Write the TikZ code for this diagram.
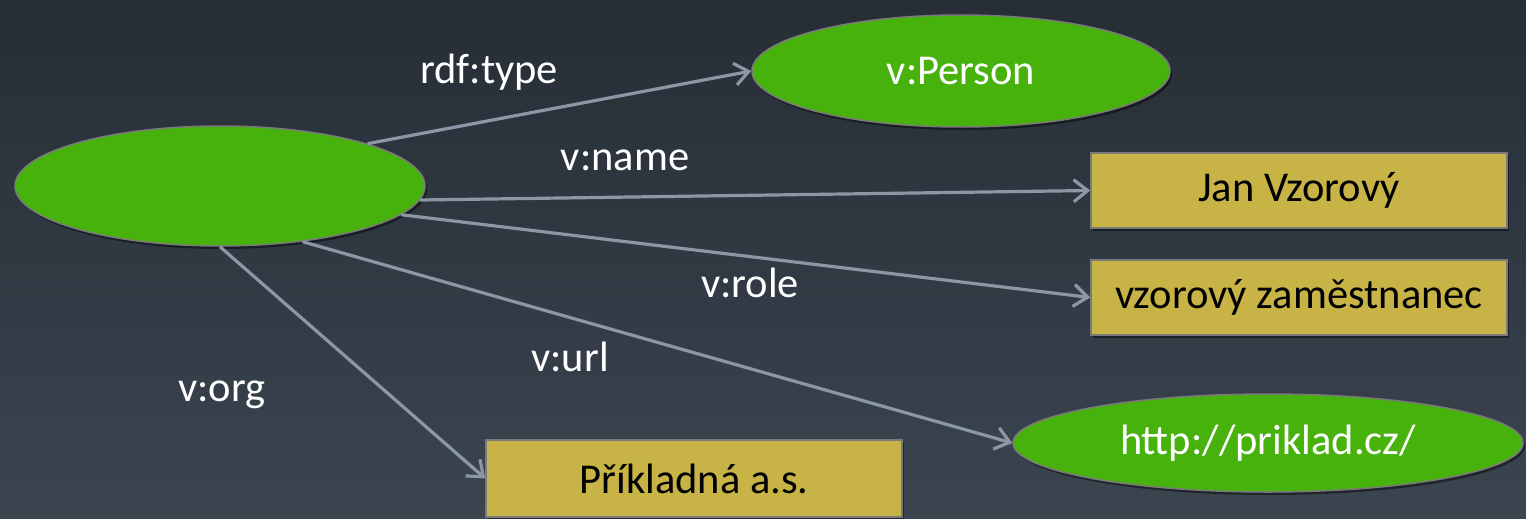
\documentclass[tikz,border=0pt]{standalone}
\usepackage{fontspec}
\setmainfont{Carlito}
\usetikzlibrary{shapes.geometric,arrows.meta,shadows}
\definecolor{bgtop}{HTML}{262D35}
\definecolor{bgbot}{HTML}{3B4550}
\definecolor{egreen}{HTML}{47B20C}
\definecolor{rgold}{HTML}{C8B446}
\definecolor{edgec}{HTML}{8C97A6}
\definecolor{bordc}{HTML}{7A7A7A}
\begin{document}
\begin{tikzpicture}[x=1pt,y=-1pt,
  font=\fontsize{42.5}{50}\selectfont,
  shad/.style={drop shadow={shadow xshift=2pt,shadow yshift=-3pt,opacity=0.45,fill=black}},
  res/.style={ellipse, fill=egreen, draw=bordc, line width=1.5pt, text=white, inner sep=0pt, shad},
  lit/.style={rectangle, fill=rgold, draw=bordc, line width=1.5pt, text=black, inner sep=0pt, shad},
  rel/.style={draw=edgec, line width=3.2pt, -{Straight Barb[length=14pt,width=22pt]}},
  lbl/.style={text=white, inner sep=0pt}]
\shade[top color=bgtop,bottom color=bgbot] (0,0) rectangle (1526,519);
\useasboundingbox (0,0) rectangle (1526,519);

\node[res, minimum width=410pt, minimum height=120pt] (s) at (220,186) {};
\node[res, minimum width=418pt, minimum height=112pt] (person) at (961,71) {v:Person};
\node[lit, minimum width=416pt, minimum height=75pt] (jan) at (1299,190.5) {Jan Vzorový};
\node[lit, minimum width=416pt, minimum height=75pt] (role) at (1299,297.5) {vzorový zaměstnanec};
\node[lit, minimum width=416pt, minimum height=77pt] (org) at (694,478.5) {Příkladná a.s.};
\node[res, minimum width=510pt, minimum height=98pt] (url) at (1268,443) {http://priklad.cz/};

\draw[rel] (s.16) -- (person.west);
\draw[rel] (s.-4) -- (jan.west);
\draw[rel] (s.-9) -- (role.west);
\draw[rel] (s.-34) -- (url.west);
\draw[rel] (s.south) -- (org.west);

\node[lbl] (l1) at (489,72) {rdf:type};
\node[lbl] (l2) at (625,160) {v:name};
\node[lbl] (l3) at (750,283) {v:role};
\node[lbl] (l4) at (570,357) {v:url};
\node[lbl] (l5) at (222,395) {v:org};
\end{tikzpicture}
\end{document}
